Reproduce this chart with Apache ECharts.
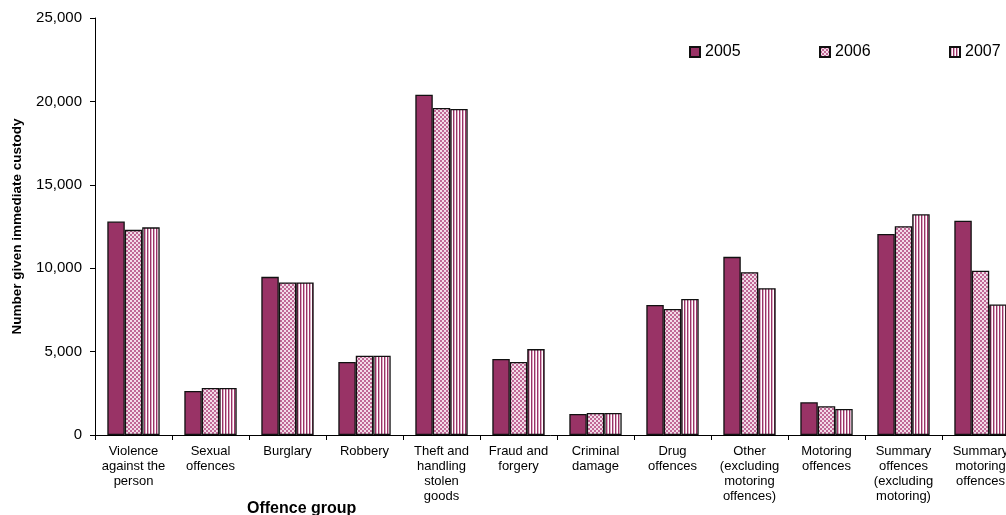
<!DOCTYPE html>
<html>
<head>
<meta charset="utf-8">
<script src="https://cdn.jsdelivr.net/npm/echarts@6/dist/echarts.min.js"></script>
<style>
html,body{margin:0;padding:0;background:#fff;}
#chart{width:1006px;height:515px;}
</style>
</head>
<body>
<div id="chart"></div>
<script>
const categories = ['Violence\nagainst the\nperson', 'Sexual\noffences', 'Burglary', 'Robbery', 'Theft and\nhandling\nstolen\ngoods', 'Fraud and\nforgery', 'Criminal\ndamage', 'Drug\noffences', 'Other\n(excluding\nmotoring\noffences)', 'Motoring\noffences', 'Summary\noffences\n(excluding\nmotoring)', 'Summary\nmotoring\noffences'];
const seriesNames = ['2005', '2006', '2007'];
const values2005 = [12800, 2640, 9480, 4380, 20400, 4560, 1260, 7790, 10680, 1960, 12050, 12850];
const values2006 = [12300, 2820, 9150, 4750, 19600, 4380, 1320, 7550, 9760, 1720, 12520, 9850];
const values2007 = [12450, 2820, 9150, 4750, 19550, 5150, 1320, 8150, 8800, 1560, 13230, 7820];
const yTicks = [0, 5000, 10000, 15000, 20000, 25000];

function makePattern(w, h, draw) {
  const c = document.createElement('canvas');
  c.width = w; c.height = h;
  const ctx = c.getContext('2d');
  draw(ctx);
  return { image: c, repeat: 'repeat' };
}
const fill2005 = '#993366';
const fill2006 = makePattern(4, 4, ctx => {
  ctx.fillStyle = '#f3dce8'; ctx.fillRect(0, 0, 4, 4);
  ctx.fillStyle = '#c06896'; ctx.fillRect(0, 0, 2, 2); ctx.fillRect(2, 2, 2, 2);
});
const fill2007 = makePattern(3, 1, ctx => {
  ctx.fillStyle = '#ffffff'; ctx.fillRect(0, 0, 3, 1);
  ctx.fillStyle = '#993366'; ctx.fillRect(0, 0, 1, 1);
  ctx.fillStyle = '#dcaac4'; ctx.fillRect(1, 0, 1, 1);
});

const font = 'Liberation Sans, Arial, sans-serif';
const chart = echarts.init(document.getElementById('chart'), null, {renderer: 'canvas'});
const fills = [fill2005, fill2006, fill2007];
const data = [values2005, values2006, values2007];
const legendLefts = [684, 814, 944];

chart.setOption({
  animation: false,
  backgroundColor: '#ffffff',
  title: {
    text: 'Offence group',
    left: 242, top: 496,
    textStyle: {fontFamily: font, fontSize: 16, fontWeight: 'bold', color: '#000'}
  },
  legend: seriesNames.map((name, i) => ({
    left: legendLefts[i], top: 39,
    itemWidth: 10, itemHeight: 10,
    icon: 'rect',
    textStyle: {fontFamily: font, fontSize: 16, color: '#000'},
    data: [name]
  })),
  grid: {left: 95, top: 18, height: 417, width: 924, containLabel: false, outerBoundsMode: 'none'},
  xAxis: {
    type: 'category',
    data: categories,
    axisLine: {lineStyle: {color: '#000', width: 1}},
    axisTick: {show: true, length: 5, lineStyle: {color: '#000'}},
    axisLabel: {interval: 0, margin: 9, fontFamily: font, fontSize: 13, lineHeight: 15, color: '#000'}
  },
  yAxis: {
    type: 'value',
    min: 0, max: 25000, interval: 5000,
    name: 'Number given immediate custody',
    nameLocation: 'middle',
    nameGap: 71,
    nameTextStyle: {fontFamily: font, fontSize: 13.5, fontWeight: 'bold', color: '#000'},
    axisLine: {show: true, lineStyle: {color: '#000', width: 1}},
    axisTick: {show: true, length: 5, lineStyle: {color: '#000'}},
    splitLine: {show: false},
    axisLabel: {
      margin: 13, fontFamily: font, fontSize: 15, color: '#000',
      formatter: v => yTicks.includes(v) ? v.toLocaleString('en-US') : ''
    }
  },
  series: seriesNames.map((name, i) => ({
    name: name,
    type: 'bar',
    data: data[i],
    barGap: '0%',
    barCategoryGap: '32%',
    itemStyle: {color: fills[i], borderColor: '#111', borderWidth: 1.3}
  }))
});
</script>
</body>
</html>
